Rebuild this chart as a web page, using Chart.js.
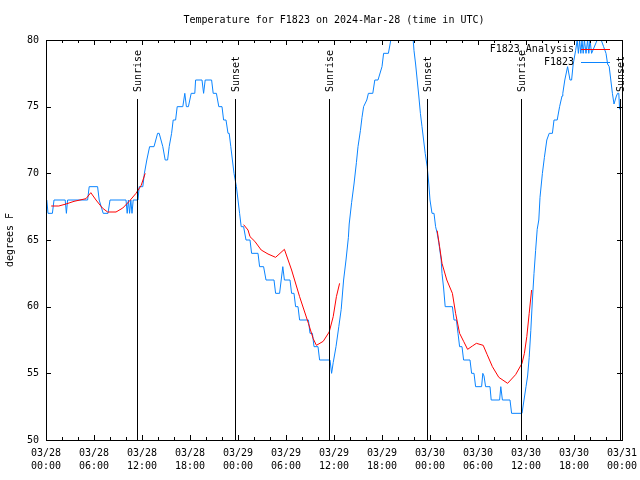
<!DOCTYPE html>
<html>
<head>
<meta charset="utf-8">
<script src="https://cdn.jsdelivr.net/npm/chart.js@4/dist/chart.umd.min.js"></script>
<style>
  body { margin: 0; background: #fff; }
  canvas { display: block; }
</style>
</head>
<body>
<canvas id="tempChart" width="640" height="480"></canvas>
<script>
// Observations (hours since 03/28 00:00 UTC, deg F)
const obsHours = [0.1, 0.25, 0.8, 1.0, 2.4, 2.55, 2.7, 5.2, 5.4, 6.45, 6.65, 7.15, 7.75, 8.0, 10.0, 10.15, 10.3, 10.45, 10.6, 10.75, 10.9, 11.5, 11.65, 12.1, 12.3, 12.6, 12.95, 13.5, 13.95, 14.15, 14.6, 14.9, 15.2, 15.4, 15.7, 15.9, 16.2, 16.4, 17.1, 17.35, 17.55, 17.8, 18.15, 18.6, 18.7, 19.5, 19.7, 19.9, 20.7, 20.9, 21.3, 21.6, 22.0, 22.2, 22.5, 22.75, 22.9, 23.1, 23.3, 23.5, 23.8, 24.0, 24.2, 24.4, 24.7, 25.0,
  25.5, 25.7, 26.5, 26.7, 27.2, 27.5, 28.5, 28.7, 29.2, 29.4, 29.6, 29.8, 30.5, 30.7, 31.0, 31.2, 31.5, 31.7, 32.8, 33.0, 33.3, 33.5, 34.0, 34.2, 35.5, 35.7, 35.9, 36.25, 36.6, 36.9, 37.2, 37.5, 37.8, 37.9, 38.2, 38.5, 38.8, 39.0, 39.3, 39.5, 39.7, 40.1, 40.3, 40.85, 41.1, 41.5, 42.0, 42.2, 42.8, 43.1, 43.6, 44.5, 45.4, 45.9, 46.0, 46.2, 46.4, 46.6, 46.8, 47.0, 47.2, 47.4, 47.65, 47.85, 48.0, 48.25, 48.5, 48.7, 48.9,
  49.1, 49.4, 49.5, 49.7, 49.9, 50.8, 51.0, 51.3, 51.5, 51.7, 52.0, 52.2, 53.0, 53.2, 53.5, 53.7, 54.45, 54.6, 54.75, 54.95, 55.5, 55.65, 56.7, 56.85, 57.05, 58.0, 58.2, 59.5, 59.75, 60.0, 60.2, 60.4, 60.6, 60.8, 61.0, 61.2, 61.4, 61.6, 61.75, 62.05, 62.3, 62.6, 62.9, 63.3, 63.5, 63.9, 64.2, 64.5, 64.6, 64.85, 65.2, 65.5, 65.7, 65.9, 66.2, 66.4, 66.55, 66.7, 66.85, 67.0, 67.15, 67.3, 67.5, 67.7, 67.85, 68.0, 68.2, 68.9, 69.2, 69.4, 69.7, 70.0, 70.2, 70.4, 70.6, 70.8, 71.0, 71.3, 71.45, 71.6, 71.7];
const obsTemps = [68, 67, 67, 68, 68, 67, 68, 68, 69, 69, 68, 67, 67, 68, 68, 67, 68, 67, 68, 67, 68, 68, 69, 69, 70, 71, 72, 72, 73, 73, 72, 71, 71, 72, 73, 74, 74, 75, 75, 76, 75, 75, 76, 76, 77, 77, 76, 77, 77, 76, 76, 75, 75, 74, 74, 73, 73, 72, 71, 70, 69, 68, 67, 66, 66, 65,
  65, 64, 64, 63, 63, 62, 62, 61, 61, 62, 63, 62, 62, 61, 61, 60, 60, 59, 59, 58, 58, 57, 57, 56, 56, 55, 55.8, 57, 58.5, 59.8, 62, 63.5, 65.2, 66.2, 67.8, 69.2, 70.8, 72, 73.2, 74.2, 75, 75.5, 76, 76, 77, 77, 78, 79, 79, 80, 81.5, 82.5, 81.5, 80, 79.2, 78.2, 77, 75.8, 74.5, 73.5, 72.5, 71.5, 70.5, 69.2, 68, 67, 67, 66, 65.5,
  64.8, 63.5, 62.5, 61.4, 60, 60, 59, 59, 58, 57, 57, 56, 56, 55, 55, 54, 54, 55, 54.8, 54, 54, 53, 53, 54, 53, 53, 52, 52, 53, 54, 54.8, 56.2, 58.2, 60.5, 62.5, 64.2, 65.8, 66.5, 68.2, 70, 71.2, 72.5, 73, 73, 74, 74, 75, 75.8, 76, 77, 78, 77, 77, 78.2, 79.2, 80, 79, 80, 79, 80, 79, 80, 79, 80, 79, 80, 79, 80, 80, 80, 79.5, 79, 78.2, 78, 77, 76, 75.2, 75.8, 76, 76, 74.8, 73.5, 73];

// Analysis (null = no analysis, line breaks there)
const anaHours = [0.65, 1.6, 2.5, 3.5, 5.0, 5.6, 6.25, 7.05, 7.7, 8.75, 9.6, 10.4, 11.25, 11.9, 12.4, 18,
  24.7, 25.25, 25.5, 26.1, 26.9, 27.75, 28.7, 29.8, 30.7, 31.7, 32.8, 33.4, 33.8, 34.65, 35.4, 35.9, 36.3, 36.7, 42,
  48.9, 49.2, 49.5, 50.1, 50.8, 51.2, 51.7, 52.2, 52.7, 53.3, 53.8, 54.65, 55.15, 55.8, 56.6, 57.7, 58.7, 59.5, 59.8, 60.1, 60.4, 60.7];
const anaTemps = [67.55, 67.55, 67.7, 67.9, 68.1, 68.55, 68.0, 67.4, 67.1, 67.1, 67.4, 67.9, 68.5, 69.1, 70.0, null,
  66.15, 65.75, 65.25, 64.9, 64.25, 63.95, 63.7, 64.3, 62.75, 60.75, 58.75, 57.6, 57.1, 57.4, 58.1, 59.25, 60.75, 61.75, null,
  65.7, 64.5, 63.25, 62.0, 61.0, 59.5, 58.0, 57.4, 56.8, 57.05, 57.25, 57.1, 56.4, 55.5, 54.7, 54.25, 54.9, 55.75, 56.5, 57.75, 59.5, 61.25];

// Sunrise / sunset markers
const sunHours = [11.37, 23.62, 35.37, 47.63, 59.38, 71.7];
const sunLabels = ['Sunrise', 'Sunset', 'Sunrise', 'Sunset', 'Sunrise', 'Sunset'];

// Axis tick labels
const xTickDates = ['03/28', '03/28', '03/28', '03/28', '03/29', '03/29', '03/29', '03/29', '03/30', '03/30', '03/30', '03/30', '03/31'];
const xTickTimes = ['00:00', '06:00', '12:00', '18:00', '00:00', '06:00', '12:00', '18:00', '00:00', '06:00', '12:00', '18:00', '00:00'];

const FONT = 'DejaVu Sans Mono';
const BLUE = '#0a84ff';
const RED = '#ff0000';

// Frame, inward tics, sun markers, title, legend (gnuplot look)
const framePlugin = {
    id: 'gnuplotFrame',
    afterDraw(chart) {
        const ctx = chart.ctx;
        const a = chart.chartArea;
        const xs = chart.scales.x;
        const ys = chart.scales.y;
        ctx.save();
        ctx.strokeStyle = '#000';
        ctx.lineWidth = 1;

        // frame
        ctx.strokeRect(a.left + 0.5, a.top + 0.5, a.right - a.left, a.bottom - a.top);

        // x tics every 2 hours, major every 6
        ctx.beginPath();
        for (let h = 0; h <= 72; h += 2) {
            const px = Math.round(xs.getPixelForValue(h)) + 0.5;
            const len = h % 6 === 0 ? 5 : 3;
            ctx.moveTo(px, a.bottom); ctx.lineTo(px, a.bottom - len);
            ctx.moveTo(px, a.top); ctx.lineTo(px, a.top + len);
        }
        // y tics
        for (let t = 50; t <= 80; t += 5) {
            const py = Math.round(ys.getPixelForValue(t)) + 0.5;
            ctx.moveTo(a.left, py); ctx.lineTo(a.left + 5, py);
            ctx.moveTo(a.right, py); ctx.lineTo(a.right - 5, py);
        }
        ctx.stroke();

        // sunrise / sunset lines and labels
        ctx.font = '10px "' + FONT + '"';
        ctx.fillStyle = '#000';
        sunHours.forEach((h, i) => {
            const px = Math.round(xs.getPixelForValue(h)) + 0.5;
            ctx.beginPath();
            ctx.moveTo(px, 99);
            ctx.lineTo(px, a.bottom);
            ctx.stroke();
            ctx.save();
            ctx.translate(px + 1, 92);
            ctx.rotate(-Math.PI / 2);
            ctx.textAlign = 'left';
            ctx.textBaseline = 'middle';
            ctx.fillText(sunLabels[i], 0, 0);
            ctx.restore();
        });

        // title
        ctx.textAlign = 'center';
        ctx.textBaseline = 'middle';
        ctx.fillText('Temperature for F1823 on 2024-Mar-28 (time in UTC)', (a.left + a.right) / 2, 20);

        // y axis title
        ctx.save();
        ctx.translate(10, (a.top + a.bottom) / 2);
        ctx.rotate(-Math.PI / 2);
        ctx.fillText('degrees F', 0, 0);
        ctx.restore();

        // legend
        const rows = [['F1823_Analysis', RED, 49.5], ['F1823', BLUE, 62.5]];
        rows.forEach(([label, color, y]) => {
            ctx.fillStyle = '#000';
            ctx.textAlign = 'right';
            ctx.fillText(label, 574, y);
            ctx.strokeStyle = color;
            ctx.beginPath();
            ctx.moveTo(581, y);
            ctx.lineTo(610, y);
            ctx.stroke();
        });
        ctx.restore();
    }
};

const tickFont = { family: FONT, size: 10, lineHeight: 1.3 };

new Chart(document.getElementById('tempChart').getContext('2d'), {
    type: 'line',
    data: {
        datasets: [
            {
                label: 'F1823_Analysis',
                data: anaHours.map((h, i) => ({ x: h, y: anaTemps[i] })),
                borderColor: RED,
                borderWidth: 1,
                pointRadius: 0,
                spanGaps: false,
                tension: 0
            },
            {
                label: 'F1823',
                data: obsHours.map((h, i) => ({ x: h, y: obsTemps[i] })),
                borderColor: BLUE,
                borderWidth: 1,
                pointRadius: 0,
                tension: 0
            }
        ]
    },
    options: {
        responsive: false,
        animation: false,
        layout: { padding: { top: 40, right: 18, left: 0, bottom: 0 } },
        plugins: {
            legend: { display: false },
            tooltip: { enabled: false }
        },
        scales: {
            x: {
                type: 'linear',
                min: 0,
                max: 72,
                grid: { display: false, drawTicks: false, tickLength: 0 },
                border: { display: false },
                ticks: {
                    stepSize: 6,
                    autoSkip: false,
                    maxRotation: 0,
                    padding: 7,
                    color: '#000',
                    font: tickFont,
                    callback: v => [xTickDates[v / 6], xTickTimes[v / 6]]
                },
                afterFit: s => {
                    s.height = 40;
                    s.paddingLeft = 0;
                    s.paddingRight = 0;
                }
            },
            y: {
                min: 50,
                max: 80,
                grid: { display: false, drawTicks: false, tickLength: 0 },
                border: { display: false },
                ticks: {
                    stepSize: 5,
                    padding: 7,
                    color: '#000',
                    font: tickFont
                },
                afterFit: s => {
                    s.width = 46;
                    s.paddingTop = 0;
                    s.paddingBottom = 0;
                }
            }
        }
    },
    plugins: [framePlugin]
});
</script>
</body>
</html>
